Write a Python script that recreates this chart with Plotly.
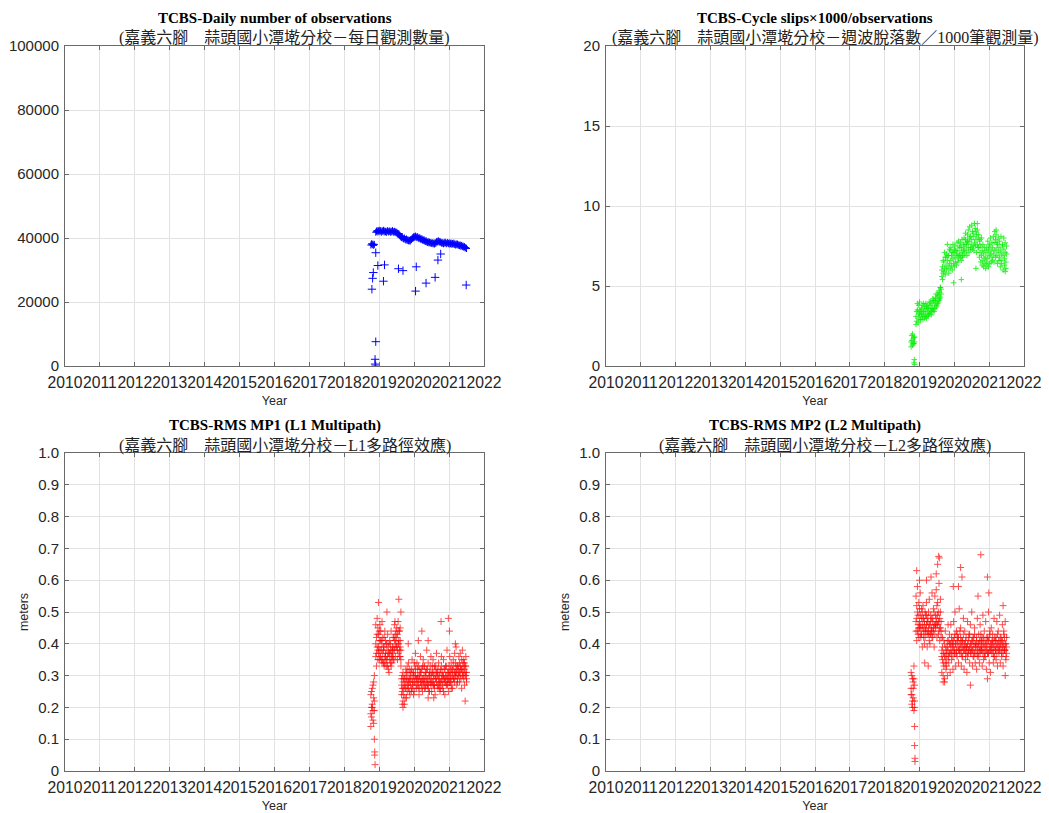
import plotly.graph_objects as go

# ---------------- data ----------------
year_ticks = [2010, 2011, 2012, 2013, 2014, 2015, 2016, 2017, 2018, 2019, 2020, 2021, 2022]
obs_ticks = [0, 20000, 40000, 60000, 80000, 100000]
slip_ticks = [0, 5, 10, 15, 20]
mp_ticks = [0, 0.1, 0.2, 0.3, 0.4, 0.5, 0.6, 0.7, 0.8, 0.9, 1.0]
mp_tick_text = ["0", "0.1", "0.2", "0.3", "0.4", "0.5", "0.6", "0.7", "0.8", "0.9", "1.0"]

early_dates = [2018.76, 2018.78, 2018.80, 2018.82, 2018.84, 2018.86]
main_dates = [
    2018.90, 2018.92, 2018.94, 2018.96, 2018.98, 2019.00, 2019.02, 2019.04, 2019.06, 2019.08,
    2019.10, 2019.12, 2019.14, 2019.16, 2019.18, 2019.20, 2019.22, 2019.24, 2019.26, 2019.28,
    2019.30, 2019.32, 2019.34, 2019.36, 2019.38, 2019.40, 2019.42, 2019.44, 2019.46, 2019.48,
    2019.50, 2019.52, 2019.54, 2019.56, 2019.58, 2019.60, 2019.62, 2019.64, 2019.66, 2019.68,
    2019.70, 2019.72, 2019.74, 2019.76, 2019.78, 2019.80, 2019.82, 2019.84, 2019.86, 2019.88,
    2019.90, 2019.92, 2019.94, 2019.96, 2019.98, 2020.00, 2020.02, 2020.04, 2020.06, 2020.08,
    2020.10, 2020.12, 2020.14, 2020.16, 2020.18, 2020.20, 2020.22, 2020.24, 2020.26, 2020.28,
    2020.30, 2020.32, 2020.34, 2020.36, 2020.38, 2020.40, 2020.42, 2020.44, 2020.46, 2020.48,
    2020.50, 2020.52, 2020.54, 2020.56, 2020.58, 2020.60, 2020.62, 2020.64, 2020.66, 2020.68,
    2020.70, 2020.72, 2020.74, 2020.76, 2020.78, 2020.80, 2020.82, 2020.84, 2020.86, 2020.88,
    2020.90, 2020.92, 2020.94, 2020.96, 2020.98, 2021.00, 2021.02, 2021.04, 2021.06, 2021.08,
    2021.10, 2021.12, 2021.14, 2021.16, 2021.18, 2021.20, 2021.22, 2021.24, 2021.26, 2021.28,
    2021.30, 2021.32, 2021.34, 2021.36, 2021.38, 2021.40, 2021.42, 2021.44, 2021.46, 2021.48, 2021.50,
]

# Daily number of observations
obs_early = [37800, 38200, 37900, 38100, 37700, 38000]
obs_main = [
    41800, 42100, 42300, 41900, 42200, 42400, 42000, 42300, 41800, 42200,
    42100, 42400, 41900, 42200, 42000, 41700, 42100, 42300, 41900, 42000,
    42200, 41800, 42100, 41900, 42300, 42000, 41700, 42100, 41900, 41600,
    41800, 41500, 41200, 41400, 40900, 40600, 40300, 40100, 40400, 39900,
    39700, 40000, 39600, 39400, 39700, 39200, 39500, 39100, 39300, 39000,
    39300, 39500, 39800, 40100, 40300, 40500, 40200, 40600, 40300, 40100,
    40400, 40000, 39800, 40100, 39700, 39500, 39800, 39400, 39200, 39500,
    39100, 38900, 39200, 38800, 38600, 38900, 38500, 38700, 38400, 38600,
    38300, 38500, 38200, 38400, 38100, 38600, 38300, 38800, 39000, 38700,
    39100, 38900, 38600, 38800, 38500, 38300, 38600, 38200, 38400, 38700,
    38500, 38200, 38400, 38600, 38300, 38100, 38500, 38200, 38400, 38000,
    38300, 38100, 38400, 38000, 37800, 38200, 37900, 38100, 37700, 37900,
    37600, 37800, 37400, 37700, 37300, 37500, 37100, 37300, 36900, 37000, 36700,
]
obs_out_dates = [2018.79, 2018.81, 2018.83, 2018.90, 2018.96, 2019.15, 2019.12, 2019.55, 2019.68, 2020.06,
                 2020.04, 2020.34, 2020.60, 2020.68, 2020.76, 2021.49, 2018.90, 2018.88, 2018.88, 2018.90]
obs_out_vals = [24000, 27400, 29200, 35400, 31400, 31600, 26500, 30400, 29800, 31000,
                23400, 25900, 27700, 33100, 35000, 25300, 7600, 2100, 600, 0]

# Cycle slips x1000 / observations
slip_early_a = [1.5, 1.9, 1.3, 1.7, 1.4, 1.8]
slip_early_b = [1.2, 1.6, 2.0, 1.4, 1.8, 1.5]
slip_main_a = [
    3.1, 2.8, 3.5, 3.0, 3.8, 3.2, 2.9, 3.4, 3.6, 3.1,
    3.3, 3.9, 3.0, 3.5, 3.2, 3.7, 3.4, 3.1, 3.6, 3.3,
    3.8, 3.5, 3.2, 3.9, 3.6, 4.1, 3.4, 3.8, 4.0, 3.7,
    4.2, 3.9, 4.4, 4.1, 4.6, 4.3, 4.8, 5.6, 6.2, 5.8,
    6.5, 6.1, 6.8, 6.3, 7.0, 6.6, 6.2, 6.9, 6.4, 7.2,
    6.6, 6.3, 7.1, 6.7, 6.4, 7.3, 6.8, 6.5, 7.0, 6.9,
    7.2, 6.7, 7.5, 7.0, 6.8, 7.4, 7.1, 6.9, 7.6, 7.3,
    7.5, 7.9, 7.2, 7.7, 8.2, 7.4, 7.8, 8.0, 7.3, 7.6,
    7.9, 8.4, 7.5, 8.1, 7.7, 8.6, 7.9, 8.2, 7.6, 8.0,
    7.4, 7.8, 7.1, 7.5, 6.9, 7.2, 6.6, 7.0, 6.7, 6.4,
    6.8, 6.5, 7.1, 6.7, 7.3, 6.9, 7.5, 7.0, 7.2, 6.8,
    7.4, 7.0, 7.7, 7.2, 7.9, 7.3, 6.9, 7.6, 7.1, 7.4,
    6.8, 7.2, 6.6, 7.0, 7.5, 6.9, 7.3, 6.7, 7.1, 6.5, 7.0,
]
slip_main_b = [
    2.6, 3.4, 3.9, 2.7, 3.3, 4.0, 3.5, 2.9, 3.2, 3.8,
    2.9, 3.4, 3.7, 3.1, 3.9, 3.0, 3.6, 3.8, 3.2, 4.0,
    3.3, 4.0, 3.6, 3.4, 4.2, 3.5, 4.1, 3.6, 4.3, 4.5,
    3.8, 4.5, 4.0, 4.7, 4.2, 4.9, 4.5, 6.0, 5.4, 6.6,
    5.9, 7.1, 5.7, 6.8, 6.0, 7.6, 6.9, 5.8, 7.3, 6.1,
    7.4, 6.9, 6.0, 7.6, 7.1, 6.2, 7.5, 7.2, 6.3, 7.7,
    6.5, 7.8, 6.9, 7.4, 7.7, 6.6, 7.9, 6.8, 7.2, 8.0,
    7.0, 8.3, 7.6, 6.9, 7.8, 8.5, 7.1, 8.7, 8.1, 7.4,
    8.8, 7.3, 8.3, 7.2, 8.9, 7.5, 8.4, 7.1, 8.5, 7.4,
    8.2, 6.8, 7.9, 6.5, 8.0, 6.3, 7.6, 6.2, 7.4, 7.2,
    6.1, 7.4, 6.3, 7.8, 6.2, 7.6, 6.4, 8.0, 6.5, 7.7,
    6.6, 8.1, 6.5, 8.4, 6.8, 8.2, 7.7, 6.4, 8.0, 6.6,
    7.8, 6.2, 8.1, 6.4, 7.6, 6.0, 8.0, 6.3, 7.7, 6.1, 7.5,
]
slip_out_dates = [2018.85, 2018.86, 2018.84, 2019.98, 2020.20, 2020.62, 2021.46, 2019.60, 2021.20, 2020.66]
slip_out_vals = [0.4, 0.1, 0.2, 5.2, 5.4, 6.1, 5.9, 4.9, 8.5, 8.9]

# RMS MP1
mp1_early_a = [0.18, 0.25, 0.21, 0.16, 0.28, 0.22]
mp1_early_b = [0.14, 0.20, 0.26, 0.19, 0.23, 0.30]
mp1_early_c = [0.24, 0.17, 0.20, 0.27, 0.15, 0.19]
mp1_main_a = [
    0.36, 0.42, 0.39, 0.45, 0.37, 0.41, 0.38, 0.44, 0.35, 0.40,
    0.37, 0.34, 0.39, 0.36, 0.41, 0.35, 0.38, 0.33, 0.37, 0.40,
    0.35, 0.38, 0.36, 0.34, 0.39, 0.37, 0.42, 0.38, 0.41, 0.44,
    0.39, 0.43, 0.37, 0.41, 0.38, 0.36, 0.33, 0.29, 0.26, 0.28,
    0.24, 0.27, 0.30, 0.26, 0.29, 0.27, 0.31, 0.28, 0.25, 0.30,
    0.27, 0.32, 0.29, 0.26, 0.31, 0.28, 0.33, 0.30, 0.27, 0.29,
    0.32, 0.28, 0.30, 0.26, 0.31, 0.29, 0.27, 0.33, 0.28, 0.30,
    0.26, 0.31, 0.28, 0.32, 0.29, 0.27, 0.30, 0.25, 0.29, 0.31,
    0.28, 0.33, 0.27, 0.30, 0.26, 0.32, 0.29, 0.31, 0.27, 0.30,
    0.29, 0.26, 0.31, 0.28, 0.33, 0.27, 0.30, 0.25, 0.29, 0.32,
    0.28, 0.30, 0.27, 0.31, 0.29, 0.33, 0.28, 0.30, 0.26, 0.32,
    0.30, 0.33, 0.29, 0.31, 0.34, 0.30, 0.32, 0.28, 0.33, 0.31,
    0.34, 0.30, 0.32, 0.35, 0.31, 0.33, 0.29, 0.34, 0.31, 0.30, 0.28,
]
mp1_main_b = [
    0.46, 0.33, 0.48, 0.38, 0.43, 0.35, 0.46, 0.36, 0.41, 0.34,
    0.42, 0.39, 0.33, 0.44, 0.36, 0.40, 0.35, 0.43, 0.32, 0.37,
    0.41, 0.34, 0.44, 0.38, 0.36, 0.42, 0.35, 0.46, 0.36, 0.39,
    0.45, 0.35, 0.47, 0.40, 0.44, 0.41, 0.38, 0.24, 0.30, 0.22,
    0.29, 0.21, 0.26, 0.32, 0.23, 0.33, 0.27, 0.34, 0.29, 0.24,
    0.31, 0.25, 0.35, 0.28, 0.24, 0.34, 0.30, 0.37, 0.26, 0.29,
    0.27, 0.33, 0.24, 0.30, 0.36, 0.28, 0.32, 0.25, 0.35, 0.29,
    0.33, 0.26, 0.31, 0.38, 0.27, 0.34, 0.25, 0.30, 0.28, 0.36,
    0.25, 0.31, 0.35, 0.27, 0.33, 0.24, 0.29, 0.37, 0.31, 0.26,
    0.34, 0.28, 0.25, 0.32, 0.36, 0.30, 0.26, 0.35, 0.29, 0.24,
    0.33, 0.27, 0.38, 0.29, 0.25, 0.31, 0.36, 0.28, 0.34, 0.27,
    0.26, 0.35, 0.29, 0.37, 0.31, 0.39, 0.27, 0.33, 0.30, 0.36,
    0.28, 0.37, 0.32, 0.26, 0.38, 0.30, 0.35, 0.27, 0.33, 0.36, 0.31,
]
mp1_main_c = [
    0.40, 0.37, 0.43, 0.35, 0.39, 0.44, 0.36, 0.41, 0.38, 0.47,
    0.35, 0.38, 0.42, 0.34, 0.37, 0.33, 0.40, 0.36, 0.39, 0.31,
    0.37, 0.40, 0.33, 0.36, 0.38, 0.35, 0.39, 0.41, 0.43, 0.40,
    0.42, 0.38, 0.40, 0.44, 0.36, 0.39, 0.35, 0.27, 0.25, 0.31,
    0.26, 0.29, 0.23, 0.28, 0.31, 0.25, 0.29, 0.26, 0.32, 0.28,
    0.29, 0.26, 0.31, 0.27, 0.30, 0.25, 0.28, 0.32, 0.29, 0.34,
    0.30, 0.26, 0.29, 0.32, 0.28, 0.31, 0.26, 0.29, 0.27, 0.33,
    0.28, 0.30, 0.27, 0.29, 0.32, 0.26, 0.28, 0.31, 0.33, 0.27,
    0.30, 0.28, 0.31, 0.29, 0.27, 0.30, 0.33, 0.28, 0.30, 0.32,
    0.27, 0.30, 0.28, 0.26, 0.29, 0.31, 0.28, 0.30, 0.32, 0.28,
    0.30, 0.33, 0.29, 0.27, 0.31, 0.28, 0.30, 0.32, 0.29, 0.31,
    0.32, 0.29, 0.31, 0.28, 0.30, 0.33, 0.31, 0.29, 0.32, 0.30,
    0.31, 0.33, 0.29, 0.32, 0.30, 0.34, 0.31, 0.32, 0.30, 0.33, 0.29,
]
mp1_out_dates = [2018.86, 2018.87, 2018.87, 2018.88, 2018.98, 2019.56, 2019.22, 2019.62, 2019.45, 2019.60,
                 2020.22, 2020.77, 2020.98, 2021.01, 2020.12, 2020.40, 2021.18, 2019.68, 2019.66, 2020.40,
                 2020.56, 2021.46, 2019.83]
mp1_out_vals = [0.10, 0.06, 0.05, 0.02, 0.53, 0.54, 0.50, 0.50, 0.47, 0.45,
                0.44, 0.47, 0.48, 0.44, 0.41, 0.41, 0.40, 0.20, 0.21, 0.23,
                0.23, 0.22, 0.40]

# RMS MP2
mp2_early_a = [0.26, 0.21, 0.29, 0.23, 0.19, 0.27]
mp2_early_b = [0.31, 0.24, 0.20, 0.28, 0.33, 0.22]
mp2_early_c = [0.24, 0.30, 0.22, 0.26, 0.29, 0.20]
mp2_main_a = [
    0.47, 0.52, 0.44, 0.49, 0.45, 0.51, 0.46, 0.43, 0.48, 0.50,
    0.45, 0.42, 0.47, 0.44, 0.49, 0.46, 0.43, 0.48, 0.45, 0.41,
    0.46, 0.43, 0.48, 0.44, 0.47, 0.45, 0.50, 0.46, 0.49, 0.47,
    0.52, 0.46, 0.50, 0.44, 0.48, 0.45, 0.42, 0.38, 0.35, 0.37,
    0.33, 0.36, 0.34, 0.38, 0.35, 0.39, 0.36, 0.41, 0.37, 0.40,
    0.38, 0.42, 0.39, 0.36, 0.41, 0.38, 0.43, 0.40, 0.37, 0.41,
    0.39, 0.42, 0.38, 0.44, 0.40, 0.37, 0.41, 0.39, 0.43, 0.38,
    0.40, 0.37, 0.42, 0.39, 0.36, 0.41, 0.38, 0.43, 0.40, 0.37,
    0.41, 0.38, 0.36, 0.40, 0.43, 0.39, 0.37, 0.42, 0.38, 0.40,
    0.36, 0.41, 0.39, 0.43, 0.38, 0.40, 0.37, 0.42, 0.39, 0.36,
    0.40, 0.38, 0.42, 0.37, 0.41, 0.39, 0.43, 0.38, 0.40, 0.37,
    0.41, 0.39, 0.36, 0.42, 0.38, 0.40, 0.37, 0.43, 0.39, 0.41,
    0.38, 0.42, 0.40, 0.37, 0.41, 0.39, 0.43, 0.38, 0.40, 0.36, 0.39,
]
mp2_main_b = [
    0.55, 0.41, 0.58, 0.43, 0.53, 0.45, 0.56, 0.42, 0.51, 0.39,
    0.52, 0.48, 0.40, 0.50, 0.44, 0.53, 0.39, 0.47, 0.43, 0.54,
    0.40, 0.49, 0.44, 0.56, 0.42, 0.51, 0.39, 0.55, 0.46, 0.57,
    0.42, 0.53, 0.47, 0.59, 0.41, 0.54, 0.47, 0.31, 0.42, 0.30,
    0.41, 0.29, 0.44, 0.32, 0.37, 0.30, 0.46, 0.34, 0.43, 0.31,
    0.46, 0.35, 0.40, 0.32, 0.47, 0.37, 0.50, 0.33, 0.44, 0.36,
    0.42, 0.34, 0.51, 0.38, 0.45, 0.33, 0.41, 0.36, 0.48, 0.32,
    0.44, 0.35, 0.39, 0.31, 0.47, 0.37, 0.43, 0.34, 0.46, 0.38,
    0.50, 0.33, 0.42, 0.36, 0.45, 0.34, 0.40, 0.32, 0.48, 0.37,
    0.43, 0.34, 0.46, 0.38, 0.41, 0.33, 0.49, 0.35, 0.44, 0.36,
    0.47, 0.32, 0.42, 0.37, 0.50, 0.34, 0.44, 0.31, 0.45, 0.38,
    0.43, 0.34, 0.48, 0.36, 0.41, 0.35, 0.47, 0.33, 0.44, 0.37,
    0.49, 0.34, 0.42, 0.36, 0.46, 0.33, 0.44, 0.38, 0.47, 0.35, 0.42,
]
mp2_main_c = [
    0.44, 0.48, 0.50, 0.46, 0.42, 0.47, 0.49, 0.45, 0.43, 0.46,
    0.48, 0.44, 0.46, 0.42, 0.45, 0.49, 0.47, 0.44, 0.50, 0.46,
    0.43, 0.47, 0.45, 0.42, 0.48, 0.44, 0.46, 0.43, 0.45, 0.48,
    0.46, 0.49, 0.43, 0.47, 0.45, 0.50, 0.44, 0.36, 0.39, 0.34,
    0.37, 0.40, 0.36, 0.39, 0.33, 0.41, 0.38, 0.36, 0.40, 0.37,
    0.40, 0.37, 0.41, 0.38, 0.39, 0.42, 0.37, 0.40, 0.38, 0.43,
    0.41, 0.38, 0.40, 0.37, 0.42, 0.39, 0.36, 0.41, 0.38, 0.40,
    0.38, 0.41, 0.39, 0.37, 0.40, 0.38, 0.42, 0.39, 0.37, 0.40,
    0.39, 0.41, 0.38, 0.42, 0.37, 0.40, 0.39, 0.41, 0.36, 0.39,
    0.40, 0.38, 0.37, 0.41, 0.39, 0.42, 0.38, 0.40, 0.37, 0.41,
    0.38, 0.40, 0.39, 0.41, 0.37, 0.42, 0.38, 0.40, 0.39, 0.41,
    0.40, 0.37, 0.41, 0.39, 0.38, 0.42, 0.39, 0.40, 0.38, 0.41,
    0.39, 0.40, 0.38, 0.41, 0.39, 0.37, 0.40, 0.42, 0.38, 0.40, 0.37,
]
mp2_out_dates = [2018.86, 2018.86, 2018.87, 2018.87, 2018.92, 2019.55, 2019.57, 2019.52, 2019.48, 2019.20,
                 2019.00, 2019.33, 2020.12, 2020.18, 2020.22, 2020.68, 2020.76, 2020.95, 2020.99, 2021.40,
                 2019.15, 2019.25, 2019.68, 2019.72, 2020.46, 2020.95, 2021.46, 2019.97]
mp2_out_vals = [0.14, 0.08, 0.04, 0.03, 0.63, 0.675, 0.67, 0.65, 0.62, 0.60,
                0.60, 0.61, 0.58, 0.64, 0.61, 0.55, 0.68, 0.61, 0.56, 0.52,
                0.34, 0.33, 0.28, 0.28, 0.27, 0.29, 0.30, 0.58]

# ---------------- figure ----------------
W, H = 1049, 813
BLUE, GREEN, RED = "#0000ff", "#00ee00", "#ff0000"

fig = go.Figure()


def add(xs, ys, idx, color, size, opacity=1.0):
    s = "" if idx == 1 else str(idx)
    fig.add_trace(go.Scatter(
        x=xs, y=ys, mode="markers", xaxis="x" + s, yaxis="y" + s, opacity=opacity,
        marker=dict(symbol="cross-thin-open", size=size, color=color,
                    line=dict(width=1, color=color)),
        showlegend=False, hoverinfo="skip"))


all_dates = early_dates + main_dates
add(all_dates, obs_early + obs_main, 1, BLUE, 5)
add(obs_out_dates, obs_out_vals, 1, BLUE, 6)

add(all_dates, slip_early_a + slip_main_a, 2, GREEN, 4, 0.8)
add(all_dates, slip_early_b + slip_main_b, 2, GREEN, 4, 0.8)
add(slip_out_dates, slip_out_vals, 2, GREEN, 4, 0.8)

add(all_dates, mp1_early_a + mp1_main_a, 3, RED, 5, 0.7)
add(all_dates, mp1_early_b + mp1_main_b, 3, RED, 5, 0.7)
add(all_dates, mp1_early_c + mp1_main_c, 3, RED, 5, 0.7)
add(mp1_out_dates, mp1_out_vals, 3, RED, 5, 0.7)

add(all_dates, mp2_early_a + mp2_main_a, 4, RED, 5, 0.7)
add(all_dates, mp2_early_b + mp2_main_b, 4, RED, 5, 0.7)
add(all_dates, mp2_early_c + mp2_main_c, 4, RED, 5, 0.7)
add(mp2_out_dates, mp2_out_vals, 4, RED, 5, 0.7)

AX = "#6a6a6a"
GRID = "#e2e2e2"
TICKFONT = dict(family="Liberation Sans, Arial, sans-serif", size=15.7, color="#262626")
LABFONT = dict(family="Liberation Sans, Arial, sans-serif", size=12.5, color="#262626")

xl = [65 / W, 484 / W]
xr = [606 / W, 1024 / W]
yt = [1 - 366 / H, 1 - 46 / H]
yb = [1 - 771 / H, 1 - 453 / H]


def xaxis(dom, anchor):
    return dict(domain=dom, anchor=anchor, range=[2010, 2022], tickvals=year_ticks,
                ticktext=[str(v) for v in year_ticks], tickangle=0, automargin=False,
                showgrid=True, gridcolor=GRID, gridwidth=1, zeroline=False,
                showline=True, linecolor=AX, linewidth=1, mirror="ticks",
                ticks="inside", ticklen=4, tickcolor=AX, tickfont=TICKFONT,
                ticklabelstandoff=2,
                title=dict(text="Year", font=LABFONT, standoff=6))


def yaxis(dom, anchor, rng, tv, tt, title=None):
    d = dict(domain=dom, anchor=anchor, range=rng, tickvals=tv, ticktext=tt, automargin=False,
             showgrid=True, gridcolor=GRID, gridwidth=1, zeroline=False,
             showline=True, linecolor=AX, linewidth=1, mirror="ticks",
             ticks="inside", ticklen=4, tickcolor=AX,
             tickfont=dict(family="Liberation Sans, Arial, sans-serif", size=15, color="#262626"),
             ticklabelstandoff=2)
    if title:
        d["title"] = dict(text=title, font=LABFONT, standoff=6)
    return d


fig.update_layout(
    template="none",
    width=W, height=H, autosize=False,
    margin=dict(l=0, r=0, t=0, b=0, autoexpand=False),
    paper_bgcolor="white", plot_bgcolor="white",
    xaxis=xaxis(xl, "y"), yaxis=yaxis(yt, "x", [0, 100000], obs_ticks, [str(v) for v in obs_ticks]),
    xaxis2=xaxis(xr, "y2"), yaxis2=yaxis(yt, "x2", [0, 20], slip_ticks, [str(v) for v in slip_ticks]),
    xaxis3=xaxis(xl, "y3"), yaxis3=yaxis(yb, "x3", [0, 1], mp_ticks, mp_tick_text, "meters"),
    xaxis4=xaxis(xr, "y4"), yaxis4=yaxis(yb, "x4", [0, 1], mp_ticks, mp_tick_text, "meters"),
)

TITLE_FONT = dict(family="Liberation Serif, Times New Roman, serif", size=15, color="black")
SUB_FONT = dict(family="Liberation Serif, Noto Sans CJK TC, serif", size=16, color="#222222")
SUB_SHIFT = 10 / W

titles = [
    ((xl[0] + xl[1]) / 2, 18, 38, "TCBS-Daily number of observations",
     "(嘉義六腳　蒜頭國小潭墘分校－每日觀測數量)"),
    ((xr[0] + xr[1]) / 2, 18, 38, "TCBS-Cycle slips×1000/observations",
     "(嘉義六腳　蒜頭國小潭墘分校－週波脫落數／1000筆觀測量)"),
    ((xl[0] + xl[1]) / 2, 425, 445, "TCBS-RMS MP1 (L1 Multipath)",
     "(嘉義六腳　蒜頭國小潭墘分校－L1多路徑效應)"),
    ((xr[0] + xr[1]) / 2, 425, 445, "TCBS-RMS MP2 (L2 Multipath)",
     "(嘉義六腳　蒜頭國小潭墘分校－L2多路徑效應)"),
]
for cx, y1, y2, t1, t2 in titles:
    fig.add_annotation(x=cx, y=1 - y1 / H, xref="paper", yref="paper", text="<b>" + t1 + "</b>",
                       showarrow=False, font=TITLE_FONT, xanchor="center", yanchor="middle")
    fig.add_annotation(x=cx + SUB_SHIFT, y=1 - y2 / H, xref="paper", yref="paper", text=t2,
                       showarrow=False, font=SUB_FONT, xanchor="center", yanchor="middle")

fig.write_html(
    "out.html",
    config={"displayModeBar": False},
    post_script="document.body.style.margin='0';document.body.style.overflow='hidden';",
)
